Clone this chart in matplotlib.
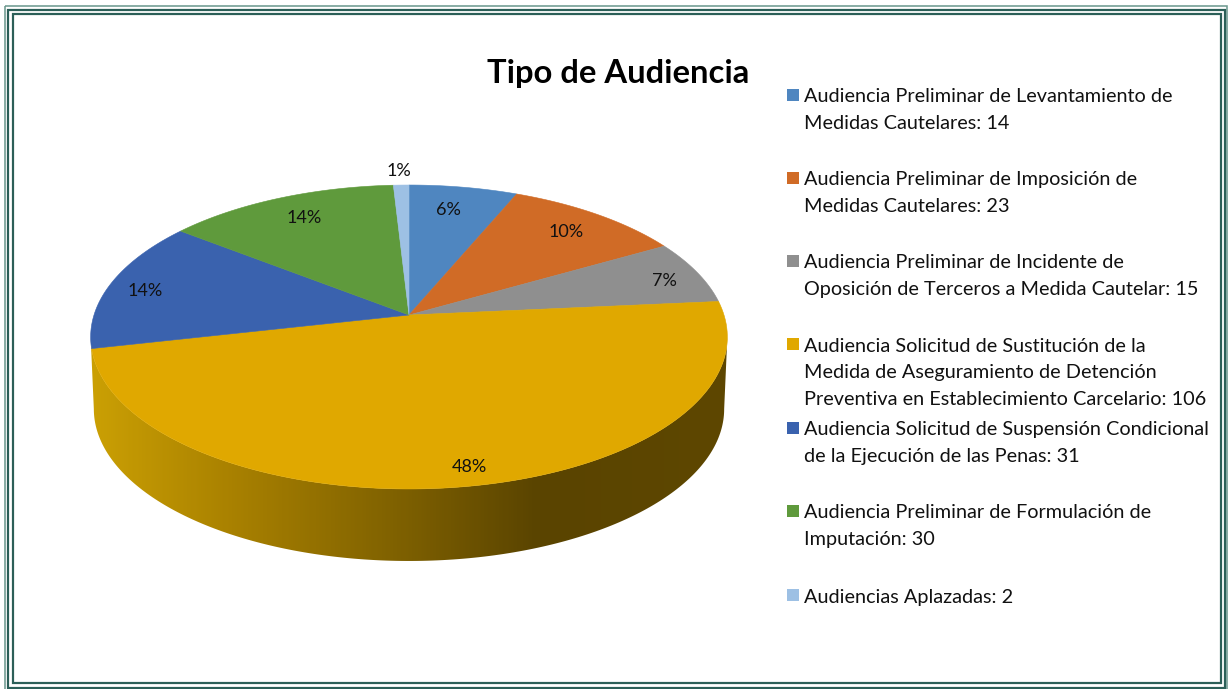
import matplotlib
matplotlib.use("Agg")
import matplotlib.pyplot as plt
import numpy as np
from matplotlib.colors import LinearSegmentedColormap
from matplotlib.patches import Polygon, Rectangle

plt.rcParams["font.family"] = ["Lato", "DejaVu Sans"]

titulo = "Tipo de Audiencia"
valores = [14, 23, 15, 106, 31, 30, 2]
porcentajes = ["6%", "10%", "7%", "48%", "14%", "14%", "1%"]
leyenda = [
    ["Audiencia Preliminar de Levantamiento de", "Medidas Cautelares: 14"],
    ["Audiencia Preliminar de Imposición de", "Medidas Cautelares: 23"],
    ["Audiencia Preliminar de Incidente de", "Oposición de Terceros a Medida Cautelar: 15"],
    ["Audiencia Solicitud de Sustitución de la", "Medida de Aseguramiento de Detención",
     "Preventiva en Establecimiento Carcelario: 106"],
    ["Audiencia Solicitud de Suspensión Condicional", "de la Ejecución de las Penas: 31"],
    ["Audiencia Preliminar de Formulación de", "Imputación: 30"],
    ["Audiencias Aplazadas: 2"],
]

colores = ["#4f86c0", "#d06b26", "#8f8f8f", "#e0a800", "#3a62ae", "#5f9a3c", "#9dc0e4"]

# pixel layout of the original picture
pos_pct = [(448, 210), (566, 232), (664, 281), (469, 467), (145, 291), (304, 218), (399, 171)]
pos_ley = [95, 178, 261, 344, 428, 511, 595]
paso_ley = 26.7

cx, cy = 409, 315
R, S, k = 315, 148.8, 0.1447
alto = 72


def proyecta(theta, escala=1.0, dy=0.0):
    # circle seen in perspective, theta clockwise from the top
    X = np.sin(theta)
    Y = np.cos(theta)
    w = 1 + k * Y
    return cx + escala * R * X / w, cy + dy - S * Y / w


fig = plt.figure(figsize=(12.28, 6.89), dpi=100)
ax = fig.add_axes([0, 0, 1, 1])
ax.set_axis_off()

# triple frame, the picture cuts it off at the bottom right
marcos = [(4.5, 5.5, 1226.5, 691, 1.6, "#6f9a90"),
          (8, 9.5, 1224.5, 687.8, 2.2, "#2c5f58"),
          (12.5, 14, 1221, 683, 2.2, "#2c5f58")]
for x0, y0, x1, y1, g, c in marcos:
    ax.add_patch(Rectangle((x0, y0), x1 - x0, y1 - y0, fill=False, ec=c, lw=g * 0.72))

cortes = np.cumsum([0] + valores) / sum(valores) * 2 * np.pi

# side wall of the big slice, between the widest points of the ellipse
t = np.linspace(np.radians(98.3), np.radians(261.7), 200)
x1, y1 = proyecta(t)
x2, y2 = proyecta(t, 0.99, alto)
pared = Polygon(np.column_stack([np.r_[x1, x2[::-1]], np.r_[y1, y2[::-1]]]), closed=True, fc="none", ec="none")
ax.add_patch(pared)
cmap = LinearSegmentedColormap.from_list("pared", [
    (0.0, "#cba004"), (0.22, "#a98100"), (0.48, "#7f6100"), (0.70, "#5a4400"), (1.0, "#5e4700")])
img = ax.imshow(np.linspace(0, 1, 300).reshape(1, -1), cmap=cmap, aspect="auto", extent=(90, 730, 570, 300))
img.set_clip_path(pared)

# top of the pie
for i in range(len(valores)):
    t = np.linspace(cortes[i], cortes[i + 1], 120)
    x, y = proyecta(t)
    ax.add_patch(Polygon(np.column_stack([np.r_[cx, x], np.r_[cy, y]]), closed=True,
                         fc=colores[i], ec=colores[i], lw=0.4))

for (x, y), p in zip(pos_pct, porcentajes):
    ax.text(x, y, p, ha="center", va="center", fontsize=13, color="#111111")

ax.text(618, 73, titulo, ha="center", va="center", fontsize=23.6, fontweight="bold", color="black")

for y, lineas, c in zip(pos_ley, leyenda, colores):
    ax.add_patch(Rectangle((787, y - 6), 12, 12, fc=c, ec="none"))
    for j, linea in enumerate(lineas):
        ax.text(804, y + 2 + j * paso_ley, linea, ha="left", va="center", fontsize=14.3, color="#111111")

ax.set_xlim(0, 1228)
ax.set_ylim(689, 0)

plt.savefig("out.png", dpi=100)
